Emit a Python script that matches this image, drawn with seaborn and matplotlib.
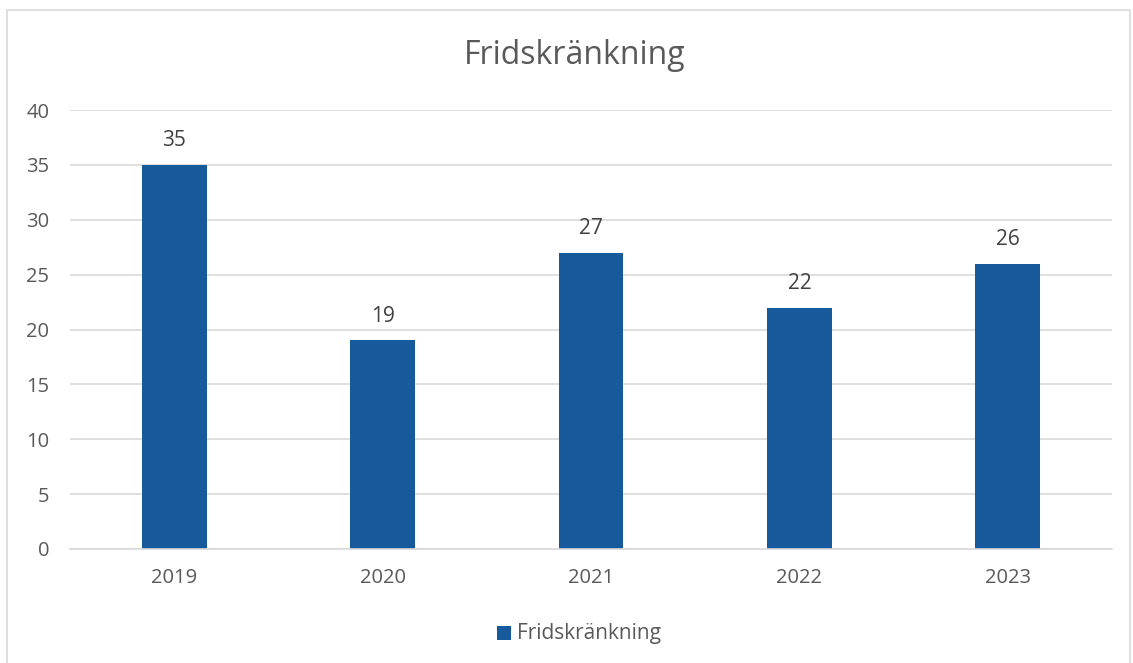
import matplotlib
matplotlib.use("Agg")
import matplotlib.pyplot as plt
import seaborn as sns
import pandas as pd
from matplotlib.patches import Rectangle

years = ["2019", "2020", "2021", "2022", "2023"]
values = [35, 19, 27, 22, 26]
series_name = "Fridskränkning"
yticks = [0, 5, 10, 15, 20, 25, 30, 35, 40]

sns.set_theme(style="white")
plt.rcParams['font.family'] = ['Open Sans', 'DejaVu Sans']

W, H = 1133, 663
fig = plt.figure(figsize=(W / 100, H / 100), dpi=100)
fig.patch.set_facecolor("white")
ax = fig.add_axes([70 / W, 1 - 549 / H, (1112 - 70) / W, (549 - 110) / H])

df = pd.DataFrame({"year": years, "value": values, "series": series_name})
bar_color = "#175A9C"
sns.barplot(data=df, x="year", y="value", hue="series", palette=[bar_color],
            width=0.31, ax=ax, legend=False, saturation=1, linewidth=0)

ax.set_xlim(-0.5, 4.5)
ax.set_ylim(0, 40)
ax.set_yticks(yticks)
ax.yaxis.grid(True, color="#D9D9D9", linewidth=1.2)
ax.set_axisbelow(True)
for s in ["top", "right", "left"]:
    ax.spines[s].set_visible(False)
ax.spines["bottom"].set_color("#D9D9D9")
ax.spines["bottom"].set_linewidth(1.2)
ax.tick_params(axis="both", length=0, labelsize=14.5, colors="#595959")
ax.tick_params(axis="y", pad=15)
ax.tick_params(axis="x", pad=14)
ax.set_xlabel("")
ax.set_ylabel("")

for i, v in enumerate(values):
    ax.annotate(str(v), (i, v), xytext=(0, 10), textcoords="offset points",
                ha="center", va="bottom", fontsize=15, color="#404040")

fig.text(575 / W, 1 - 55 / H, series_name, ha="center", va="center",
         fontsize=23, color="#595959")

# legend
fig.patches.append(Rectangle((497 / W, 1 - 640 / H), 14 / W, 14 / H,
                             transform=fig.transFigure, facecolor=bar_color,
                             edgecolor="none"))
fig.text(517 / W, 1 - 633 / H, series_name, ha="left", va="center",
         fontsize=15, color="#595959")

# chart border
fig.patches.append(Rectangle((7 / W, -0.05), (1130 - 7) / W, 1.05 - 10 / H,
                             transform=fig.transFigure, facecolor="none",
                             edgecolor="#D9D9D9", linewidth=1.2))

fig.savefig("out.png", dpi=100)
